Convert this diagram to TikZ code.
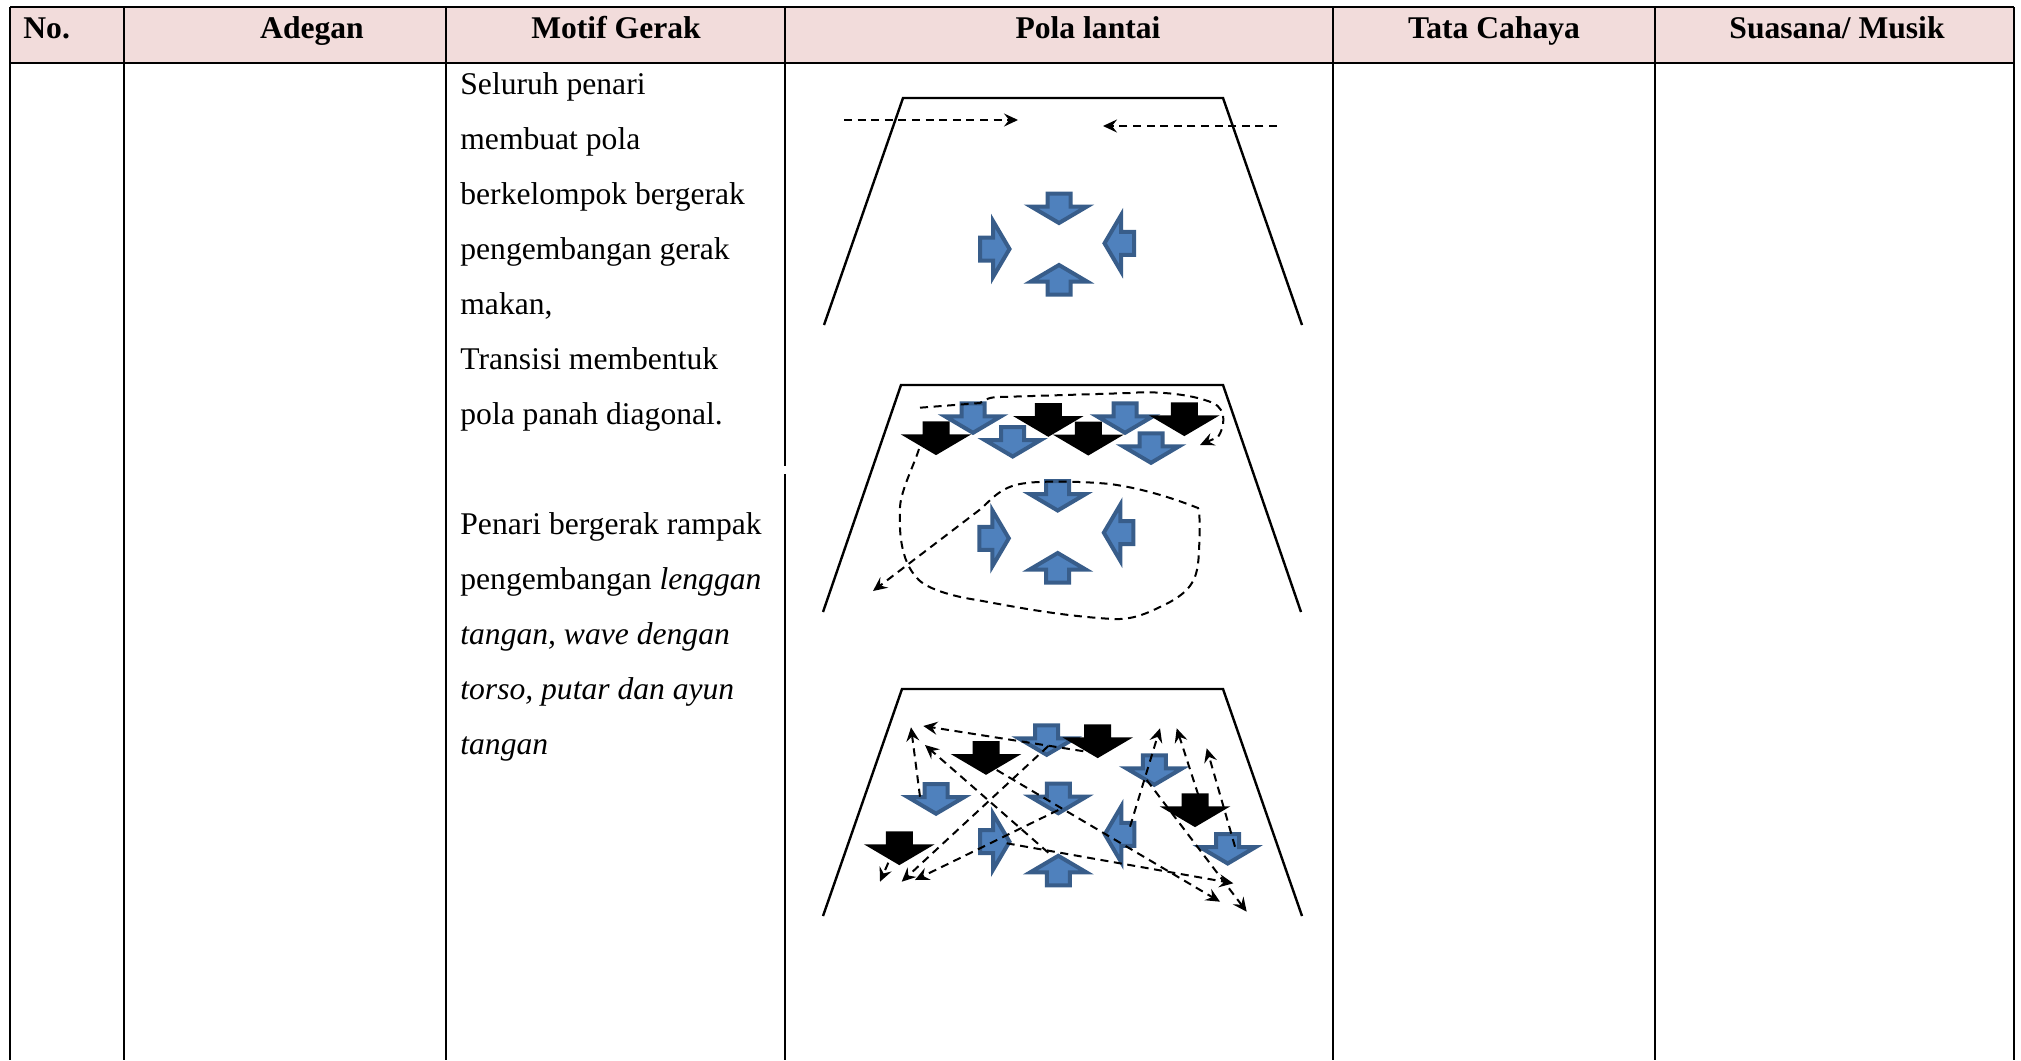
\documentclass[tikz,border=0pt]{standalone}
\usepackage{fontspec}
\setmainfont{Liberation Serif}
\usetikzlibrary{arrows.meta}
\definecolor{headpink}{HTML}{F2DCDB}
\definecolor{arrowblue}{HTML}{4F81BD}
\definecolor{arrowedge}{HTML}{385D8A}
% block arrow pointing down, centred at (#1,#2), turned by #3 degrees, style #4
\newcommand\blockarrow[4]{\draw[#4,shift={(#1,#2)},rotate=#3]
  (-11.5,-15) -- (11.5,-15) -- (11.5,-2) -- (28,-2) -- (0,14.5) -- (-28,-2) -- (-11.5,-2) -- cycle;}
\begin{document}
\begin{tikzpicture}[x=0.5pt,y=-0.5pt,
  rule/.style={line width=1.3pt},
  stage/.style={line width=1.2pt, line join=miter},
  bluearrow/.style={fill=arrowblue, draw=arrowedge, line width=2pt, line join=miter},
  blackarrow/.style={fill=black, draw=black, line width=2pt, line join=miter},
  route/.style={line width=1pt, dash pattern=on 4pt off 2.8pt,
    -{Stealth[length=7pt,width=6.5pt,inset=2.5pt]}},
  colhead/.style={font=\bfseries\fontsize{15.8}{18}\selectfont, anchor=base, inner sep=0pt},
  celltext/.style={font=\fontsize{15.8}{18}\selectfont, anchor=base west, inner sep=0pt}]
\useasboundingbox (0,0) rectangle (2021,1060);

% header row
\fill[headpink] (10,7) rectangle (2014,63);
\draw[rule] (10,7) -- (2014,7);
\draw[rule] (10,63) -- (2014,63);
\foreach \cx in {10,124,446,1333,1655,2014} \draw[rule] (\cx,7) -- (\cx,1060);
\draw[rule] (785,7) -- (785,466);
\draw[rule] (785,474) -- (785,1060);

\node[colhead, anchor=base west] (hno) at (23,39) {No.};
\node[colhead] (hadegan) at (312,39) {Adegan};
\node[colhead] (hmotif) at (616,39) {Motif Gerak};
\node[colhead] (hpola) at (1088,39) {Pola lantai};
\node[colhead] (htata) at (1494,39) {Tata Cahaya};
\node[colhead] (hsuasana) at (1837,39) {Suasana/ Musik};

% movement description
\node[celltext] (m1) at (460,94.5) {Seluruh penari};
\node[celltext] (m2) at (460,149.5) {membuat pola};
\node[celltext] (m3) at (460,204.5) {berkelompok bergerak};
\node[celltext] (m4) at (460,259.5) {pengembangan gerak};
\node[celltext] (m5) at (460,314.5) {makan,};
\node[celltext] (m6) at (460,369.5) {Transisi membentuk};
\node[celltext] (m7) at (460,424.5) {pola panah diagonal.};
\node[celltext] (m8) at (460,534.5) {Penari bergerak rampak};
\node[celltext] (m9) at (460,589.5) {pengembangan \textit{lenggan}};
\node[celltext] (m10) at (460,644.5) {\textit{tangan, wave dengan}};
\node[celltext] (m11) at (460,699.5) {\textit{torso, putar dan ayun}};
\node[celltext] (m12) at (460,754.5) {\textit{tangan}};

% ---- floor pattern 1 ----
\draw[stage] (824,325) -- (903,98) -- (1223,98) -- (1302,325);
\draw[route] (844,120) -- (1018,120);
\draw[route] (1277,126) -- (1103,126);
\blockarrow{1059}{208.5}{0}{bluearrow}
\blockarrow{1059}{279.5}{180}{bluearrow}
\blockarrow{995}{249}{90}{bluearrow}
\blockarrow{1119}{243.3}{-90}{bluearrow}

% ---- floor pattern 2 ----
\draw[stage] (823,612) -- (901,385) -- (1223,385) -- (1301,612);
\blockarrow{973}{418.3}{0}{bluearrow}
\blockarrow{1012.7}{442}{0}{bluearrow}
\blockarrow{1125}{418.3}{0}{bluearrow}
\blockarrow{1151}{448.3}{0}{bluearrow}
\blockarrow{936}{438.3}{0}{blackarrow}
\blockarrow{1048.3}{420}{0}{blackarrow}
\blockarrow{1088.3}{438.7}{0}{blackarrow}
\blockarrow{1184.3}{419.3}{0}{blackarrow}
\blockarrow{1057.7}{496}{0}{bluearrow}
\blockarrow{1057.7}{567.5}{180}{bluearrow}
\blockarrow{994.3}{538.3}{90}{bluearrow}
\blockarrow{1118.3}{532.7}{-90}{bluearrow}
\draw[route] (920,407.7) -- (980,403) .. controls (986,399) and (990,397) .. (1000,397)
  -- (1130,393) .. controls (1150,391) and (1190,393) .. (1213,403)
  .. controls (1228,410) and (1224,428) .. (1218,437) -- (1200,445);
\draw[route] (919,449) .. controls (914,465) and (901,490) .. (900,507)
  .. controls (899,530) and (900,560) .. (917,578)
  .. controls (925,588) and (950,596) .. (977,600)
  .. controls (1010,606) and (1060,616) .. (1113,619)
  .. controls (1135,620) and (1150,612) .. (1170,602)
  .. controls (1195,588) and (1198,575) .. (1199,550)
  .. controls (1200,530) and (1200,512) .. (1198,508)
  .. controls (1170,497) and (1140,488) .. (1110,484)
  .. controls (1080,481) and (1040,481) .. (1027,483)
  .. controls (1005,485) and (995,495) .. (982,508)
  -- (873,591);

% ---- floor pattern 3 ----
\draw[stage] (823,916) -- (902,689) -- (1223,689) -- (1302,916);
\blockarrow{1046.7}{740.3}{0}{bluearrow}
\blockarrow{1154.3}{770.3}{0}{bluearrow}
\blockarrow{936}{799.2}{0}{bluearrow}
\blockarrow{1058.3}{798.7}{0}{bluearrow}
\blockarrow{1227.7}{849}{0}{bluearrow}
\blockarrow{995}{841.7}{90}{bluearrow}
\blockarrow{1119.3}{834.3}{-90}{bluearrow}
\blockarrow{1058.3}{870.3}{180}{bluearrow}
\blockarrow{986}{758}{0}{blackarrow}
\blockarrow{1097.7}{741.3}{0}{blackarrow}
\blockarrow{1195}{810.3}{0}{blackarrow}
\blockarrow{899.3}{848.3}{0}{blackarrow}
\draw[route] (1096.7,753.3) -- (923.3,726);
\draw[route] (920,796.7) -- (911,727.3);
\draw[route] (1048.3,852.7) -- (925,745);
\draw[route] (1130,826.7) -- (1160,728.3);
\draw[route] (1198.3,795) -- (1176.7,728.3);
\draw[route] (1235,846.7) -- (1206.7,748.3);
\draw[route] (1048.3,746) -- (901.7,881.7);
\draw[route] (1058.3,810) -- (915,880);
\draw[route] (888.3,862.7) -- (880,881.7);
\draw[route] (1146.7,780) -- (1246.7,911.7);
\draw[route] (996.7,770) -- (1220,901.7);
\draw[route] (1006.7,843.3) -- (1233.3,883.3);
\end{tikzpicture}
\end{document}
